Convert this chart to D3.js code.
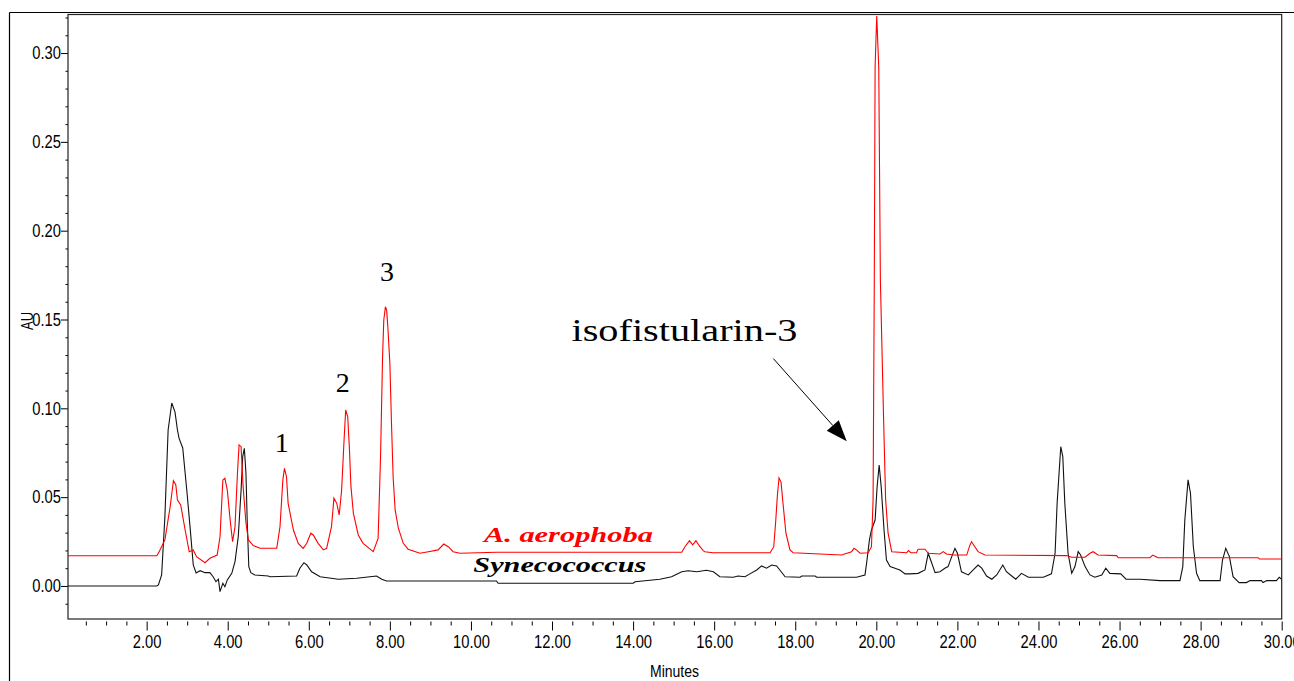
<!DOCTYPE html>
<html>
<head>
<meta charset="utf-8">
<script src="https://cdn.jsdelivr.net/npm/d3@7.9.0/dist/d3.min.js"></script>
<style>
  body { margin: 0; background: #fff; }
  svg { display: block; }
</style>
</head>
<body>
<svg id="chart" width="1294" height="681"></svg>
<script>
// A. aerophoba trace (red): [minutes, AU]
const aerophoba = [
  [0.06,0.0170],[1.84,0.0170],[2.25,0.0170],[2.29,0.0184],[2.45,0.0259],[2.58,0.0446],[2.66,0.0593],
  [2.72,0.0569],[2.76,0.0484],[2.84,0.0456],[2.95,0.0315],[3.05,0.0193],[3.15,0.0203],[3.23,0.0165],
  [3.44,0.0131],[3.56,0.0156],[3.74,0.0174],[3.81,0.0277],[3.88,0.0597],[3.93,0.0606],[3.99,0.0540],
  [4.06,0.0371],[4.12,0.0249],[4.18,0.0334],[4.24,0.0634],[4.28,0.0794],[4.33,0.0784],[4.38,0.0559],
  [4.45,0.0353],[4.51,0.0259],[4.63,0.0227],[4.80,0.0212],[5.21,0.0212],[5.29,0.0334],[5.36,0.0597],
  [5.40,0.0662],[5.45,0.0615],[5.49,0.0465],[5.62,0.0315],[5.74,0.0240],[5.86,0.0212],[5.95,0.0240],
  [6.05,0.0297],[6.11,0.0287],[6.23,0.0240],[6.36,0.0203],[6.44,0.0212],[6.56,0.0334],[6.62,0.0494],
  [6.69,0.0465],[6.75,0.0400],[6.81,0.0540],[6.87,0.0822],[6.91,0.0991],[6.96,0.0953],[7.00,0.0784],
  [7.04,0.0559],[7.10,0.0409],[7.22,0.0287],[7.34,0.0240],[7.59,0.0193],[7.71,0.0268],[7.77,0.0728],
  [7.82,0.1291],[7.85,0.1497],[7.89,0.1572],[7.92,0.1553],[7.95,0.1459],[8.00,0.1253],[8.04,0.0916],
  [8.08,0.0615],[8.13,0.0428],[8.21,0.0325],[8.33,0.0240],[8.45,0.0207],[8.74,0.0184],[8.95,0.0193],
  [9.19,0.0203],[9.33,0.0236],[9.44,0.0221],[9.56,0.0193],[9.73,0.0184],[10.63,0.0190],[13.18,0.0190],
  [15.20,0.0190],[15.28,0.0221],[15.39,0.0255],[15.47,0.0231],[15.55,0.0255],[15.65,0.0221],[15.73,0.0199],
  [15.77,0.0193],[15.97,0.0187],[17.38,0.0187],[17.47,0.0221],[17.52,0.0371],[17.56,0.0512],[17.60,0.0608],
  [17.65,0.0585],[17.69,0.0484],[17.77,0.0297],[17.87,0.0203],[17.95,0.0187],[19.14,0.0174],[19.39,0.0193],
  [19.45,0.0212],[19.51,0.0203],[19.60,0.0184],[19.80,0.0187],[19.88,0.0221],[19.92,0.0484],[19.95,0.1722],
  [19.97,0.2923],[20.01,0.3208],[20.06,0.2923],[20.10,0.1722],[20.18,0.0934],[20.23,0.0484],[20.29,0.0297],
  [20.38,0.0193],[20.75,0.0187],[20.79,0.0199],[20.85,0.0187],[20.99,0.0187],[21.03,0.0207],[21.20,0.0207],
  [21.28,0.0184],[21.57,0.0180],[21.65,0.0193],[21.73,0.0180],[21.90,0.0174],[22.23,0.0174],[22.31,0.0231],
  [22.35,0.0249],[22.43,0.0221],[22.51,0.0193],[22.68,0.0174],[24.69,0.0171],[24.82,0.0162],[25.15,0.0162],
  [25.27,0.0184],[25.35,0.0193],[25.47,0.0174],[25.93,0.0171],[25.97,0.0159],[26.75,0.0159],[26.82,0.0174],
  [26.90,0.0165],[26.95,0.0159],[29.42,0.0159],[29.45,0.0152],[30.00,0.0152]
];

// Synecococcus trace (black): [minutes, AU]
const synecococcus = [
  [0.06,0.0000],[2.25,0.0000],[2.29,0.0006],[2.37,0.0062],[2.45,0.0390],[2.53,0.0878],[2.62,0.1030],
  [2.70,0.0979],[2.76,0.0878],[2.80,0.0831],[2.89,0.0777],[2.99,0.0540],[3.07,0.0334],[3.15,0.0118],
  [3.22,0.0073],[3.32,0.0086],[3.44,0.0075],[3.56,0.0075],[3.64,0.0052],[3.71,0.0024],[3.77,0.0038],
  [3.81,-0.0032],[3.88,0.0015],[3.93,-0.0004],[3.99,0.0034],[4.10,0.0071],[4.18,0.0137],[4.26,0.0277],
  [4.33,0.0540],[4.37,0.0728],[4.41,0.0775],[4.45,0.0634],[4.48,0.0371],[4.52,0.0109],[4.57,0.0075],
  [4.67,0.0062],[5.00,0.0056],[5.04,0.0052],[5.70,0.0056],[5.78,0.0100],[5.88,0.0131],[5.95,0.0118],
  [6.07,0.0080],[6.28,0.0052],[6.73,0.0038],[7.18,0.0043],[7.51,0.0052],[7.67,0.0056],[7.80,0.0038],
  [7.92,0.0028],[10.63,0.0028],[10.67,0.0015],[14.00,0.0015],[14.05,0.0024],[14.66,0.0038],[14.95,0.0052],
  [15.20,0.0080],[15.36,0.0086],[15.57,0.0080],[15.81,0.0088],[15.98,0.0080],[16.14,0.0052],[16.47,0.0049],
  [16.59,0.0056],[16.76,0.0052],[16.88,0.0068],[17.05,0.0090],[17.17,0.0113],[17.29,0.0100],[17.42,0.0118],
  [17.54,0.0113],[17.62,0.0090],[17.75,0.0052],[18.12,0.0049],[18.16,0.0056],[18.49,0.0056],[18.53,0.0049],
  [19.51,0.0049],[19.72,0.0062],[19.76,0.0128],[19.83,0.0259],[19.88,0.0315],[19.97,0.0371],[20.02,0.0559],
  [20.07,0.0681],[20.12,0.0559],[20.19,0.0315],[20.25,0.0146],[20.34,0.0109],[20.46,0.0100],[20.58,0.0090],
  [20.71,0.0068],[20.83,0.0068],[21.03,0.0071],[21.20,0.0090],[21.28,0.0184],[21.34,0.0146],[21.45,0.0075],
  [21.57,0.0080],[21.69,0.0100],[21.77,0.0109],[21.86,0.0165],[21.94,0.0212],[22.00,0.0184],[22.10,0.0080],
  [22.27,0.0062],[22.39,0.0090],[22.51,0.0118],[22.60,0.0100],[22.72,0.0056],[22.85,0.0038],[22.97,0.0062],
  [23.12,0.0118],[23.21,0.0080],[23.34,0.0056],[23.44,0.0038],[23.58,0.0071],[23.75,0.0049],[24.12,0.0049],
  [24.32,0.0068],[24.41,0.0184],[24.46,0.0465],[24.55,0.0784],[24.60,0.0728],[24.65,0.0465],[24.73,0.0184],
  [24.82,0.0071],[24.90,0.0109],[24.98,0.0193],[25.04,0.0174],[25.15,0.0109],[25.27,0.0062],[25.39,0.0049],
  [25.56,0.0062],[25.66,0.0100],[25.76,0.0071],[26.03,0.0068],[26.16,0.0038],[26.50,0.0038],[27.00,0.0030],
  [27.49,0.0030],[27.56,0.0109],[27.61,0.0371],[27.69,0.0597],[27.75,0.0522],[27.82,0.0221],[27.90,0.0071],
  [27.98,0.0030],[28.48,0.0030],[28.54,0.0146],[28.62,0.0212],[28.71,0.0165],[28.80,0.0052],[28.95,0.0019],
  [29.13,0.0019],[29.22,0.0030],[29.50,0.0030],[29.54,0.0019],[29.63,0.0030],[29.87,0.0030],[29.94,0.0049],
  [30.00,0.0038]
];

const xTicks = [2, 4, 6, 8, 10, 12, 14, 16, 18, 20, 22, 24, 26, 28, 30];
const yTicks = [0, 0.05, 0.10, 0.15, 0.20, 0.25, 0.30];

// text labels placed in data units: [text, minutes, AU]
const peakLabels = [['1', 5.33, 0.0754], ['2', 6.84, 0.1092], ['3', 7.93, 0.1717]];
const compoundLabel = ['isofistularin-3', 12.48, 0.1379];
const arrowFrom = [17.46, 0.128];
const arrowTo = [19.27, 0.0815];
const seriesNames = [
  { name: 'A. aerophoba', t: 10.32, v: 0.0249, color: '#ff0000', len: 169 },
  { name: 'Synecococcus', t: 10.06, v: 0.0080, color: '#000000', len: 173 }
];

const W = 1294, H = 681;
const margin = { top: 14.5, right: 12.3, bottom: 62, left: 68 };
const sans = "'Liberation Sans Narrow', 'Arial Narrow', 'Liberation Sans', sans-serif";
const serif = "'Liberation Serif', 'Times New Roman', serif";

// condensed width for tick text: digits ~8.2px, point ~4.1px
const narrowLen = s => s.split('').reduce((a, c) => a + (c === '.' ? 4.1 : 8.2), 0);

const svg = d3.select('#chart');

const x = d3.scaleLinear().domain([0.06, 30]).range([margin.left, W - margin.right]);
const y = d3.scaleLinear().domain([-0.0186, 0.3217]).range([H - margin.bottom, margin.top]);

// outer frame (only top and left show in the window)
svg.append('line').attr('x1', 9.5).attr('x2', W).attr('y1', 12.5).attr('y2', 12.5)
  .attr('stroke', '#000').attr('stroke-width', 1.2);
svg.append('line').attr('x1', 9.5).attr('x2', 9.5).attr('y1', 12.5).attr('y2', H)
  .attr('stroke', '#000').attr('stroke-width', 1.2);

svg.append('clipPath').attr('id', 'plot-clip').append('rect')
  .attr('x', margin.left).attr('y', margin.top)
  .attr('width', W - margin.right - margin.left).attr('height', H - margin.bottom - margin.top);

// y axis
const yMinor = d3.range(-1, 33).map(i => i / 100).filter(v => !yTicks.some(t => Math.abs(t - v) < 1e-6));
svg.append('g').attr('transform', `translate(${margin.left},0)`)
  .call(d3.axisLeft(y).tickValues(yMinor).tickSize(2.5).tickFormat(''))
  .call(g => g.select('.domain').remove());
svg.append('g').attr('transform', `translate(${margin.left},0)`)
  .call(d3.axisLeft(y).tickValues(yTicks).tickSize(7).tickPadding(0).tickFormat(d3.format('.2f')))
  .call(g => g.select('.domain').remove())
  .call(g => g.selectAll('text').style('font-family', sans).style('font-size', '18px').attr('fill', '#000')
    .attr('textLength', function() { return narrowLen(this.textContent); })
    .attr('lengthAdjust', 'spacingAndGlyphs'));

// x axis
const xMinor = d3.range(1, 61).map(i => i / 2).filter(v => v % 2 !== 0);
const axisY = H - margin.bottom + 2.5;
svg.append('g').attr('transform', `translate(0,${axisY})`)
  .call(d3.axisBottom(x).tickValues(xMinor).tickSize(4).tickFormat(''))
  .call(g => g.select('.domain').remove());
svg.append('g').attr('transform', `translate(0,${axisY})`)
  .call(d3.axisBottom(x).tickValues(xTicks).tickSize(9).tickPadding(5).tickFormat(d3.format('.2f')))
  .call(g => g.select('.domain').remove())
  .call(g => g.selectAll('text').style('font-family', sans).style('font-size', '18px').attr('fill', '#000')
    .attr('textLength', function() { return narrowLen(this.textContent); })
    .attr('lengthAdjust', 'spacingAndGlyphs'));

// plot frame
svg.append('rect')
  .attr('x', margin.left).attr('y', margin.top)
  .attr('width', W - margin.right - margin.left).attr('height', H - margin.bottom - margin.top)
  .attr('fill', 'none').attr('stroke', '#222').attr('stroke-width', 1.2);

// traces
const line = d3.line().x(d => x(d[0])).y(d => y(d[1]));
const traces = svg.append('g').attr('clip-path', 'url(#plot-clip)');
traces.append('path').datum(synecococcus)
  .attr('fill', 'none').attr('stroke', '#111').attr('stroke-width', 1.1).attr('d', line);
traces.append('path').datum(aerophoba)
  .attr('fill', 'none').attr('stroke', '#ff0000').attr('stroke-width', 1.1).attr('d', line);

// axis titles
svg.append('text')
  .attr('x', 674.5).attr('y', 677)
  .attr('text-anchor', 'middle')
  .attr('textLength', 49).attr('lengthAdjust', 'spacingAndGlyphs')
  .style('font-family', sans).style('font-size', '17px')
  .text('Minutes');
svg.append('text')
  .attr('transform', 'translate(33,321) rotate(-90)')
  .attr('text-anchor', 'middle')
  .attr('textLength', 18).attr('lengthAdjust', 'spacingAndGlyphs')
  .style('font-family', sans).style('font-size', '16px')
  .text('AU');

// peak numbers
peakLabels.forEach(([txt, t, v]) => {
  svg.append('text')
    .attr('x', x(t)).attr('y', y(v))
    .attr('text-anchor', 'middle')
    .style('font-family', serif).style('font-size', '28px')
    .text(txt);
});

svg.append('text')
  .attr('x', x(compoundLabel[1])).attr('y', y(compoundLabel[2]))
  .attr('textLength', 226).attr('lengthAdjust', 'spacingAndGlyphs')
  .style('font-family', serif).style('font-size', '31px')
  .text(compoundLabel[0]);

// arrow
const ax1 = x(arrowFrom[0]), ay1 = y(arrowFrom[1]);
const ax2 = x(arrowTo[0]), ay2 = y(arrowTo[1]);
const len = Math.hypot(ax2 - ax1, ay2 - ay1);
const ux = (ax2 - ax1) / len, uy = (ay2 - ay1) / len;
const headL = 21, headW = 8;
const bx = ax2 - ux * headL, by = ay2 - uy * headL;
svg.append('line')
  .attr('x1', ax1).attr('y1', ay1).attr('x2', bx).attr('y2', by)
  .attr('stroke', '#000').attr('stroke-width', 1);
svg.append('path')
  .attr('d', `M${ax2},${ay2}L${bx - uy * headW},${by + ux * headW}L${bx + uy * headW},${by - ux * headW}Z`)
  .attr('fill', '#000');

// series names
seriesNames.forEach(s => {
  svg.append('text')
    .attr('x', x(s.t)).attr('y', y(s.v))
    .attr('textLength', s.len).attr('lengthAdjust', 'spacingAndGlyphs')
    .style('font-family', serif).style('font-size', '21px')
    .style('font-style', 'italic').style('font-weight', 'bold')
    .attr('fill', s.color)
    .text(s.name);
});
</script>
</body>
</html>
